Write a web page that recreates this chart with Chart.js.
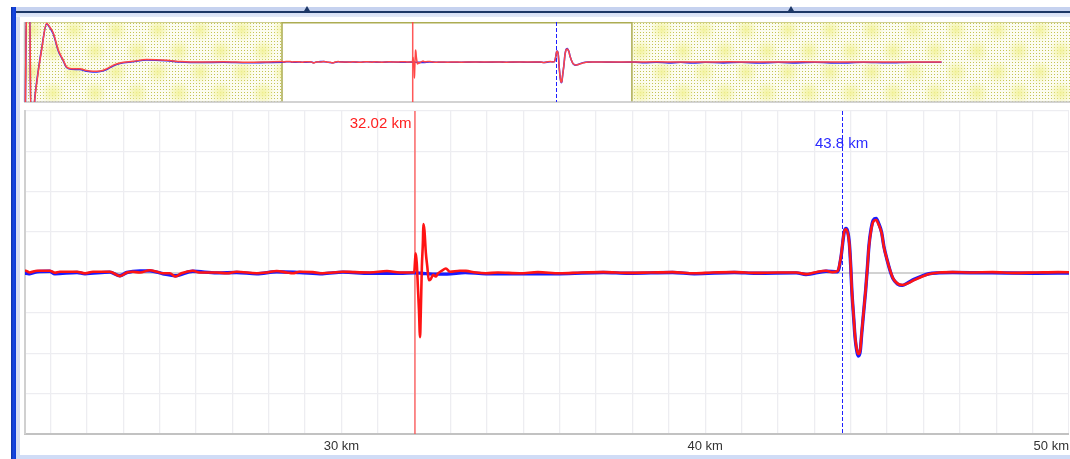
<!DOCTYPE html>
<html>
<head>
<meta charset="utf-8">
<script src="https://cdn.jsdelivr.net/npm/chart.js@4.4.1/dist/chart.umd.min.js"></script>
<style>
  html, body { margin: 0; padding: 0; background: #fff; width: 1070px; height: 459px; overflow: hidden; position: relative; }
  .abs { position: absolute; }
  #blueBar { left: 11px; top: 7px; width: 5px; height: 452px; background: linear-gradient(to right, #0a2e9e, #1747e0 45%, #0b3ad6); }
  #leftStrip { left: 16px; top: 7px; width: 4px; height: 452px; background: #d5ddf0; }
  #topBand { left: 16px; top: 7px; right: 0; height: 10px; background: linear-gradient(to bottom, #c6d2ef 0, #c6d2ef 4px, #1d3766 4px, #1d3766 6px, #d6e0f6 6px, #e4eaf8 10px); }
  #bottomBand { left: 16px; top: 455px; right: 0; height: 4px; background: #d0dcf6; }
  .tickMark { top: 6px; width: 0; height: 0; border-left: 3px solid transparent; border-right: 3px solid transparent; border-bottom: 5px solid #1d3766; }
  #overviewCanvas { left: 22px; top: 20px; }
  #mainCanvas { left: 23px; top: 108px; }
</style>
</head>
<body>
<div class="abs" id="blueBar"></div>
<div class="abs" id="leftStrip"></div>
<div class="abs" id="topBand"></div>
<div class="abs" id="bottomBand"></div>
<div class="abs tickMark" style="left:304px"></div>
<div class="abs tickMark" style="left:788px"></div>
<canvas class="abs" id="overviewCanvas" width="1080" height="84"></canvas>
<canvas class="abs" id="mainCanvas" width="1046" height="351"></canvas>
<script>
// distance (km), amplitude
const redTrace = [
  [0.25,-4.5],[0.30,2.5],[0.36,4.6],[0.62,4.6],[0.68,-4.6],[0.95,-4.6],[1.03,-3.6],[1.30,-1.0],[1.58,1.2],[1.99,3.87],
  [2.25,3.5],[2.54,2.9],[2.95,1.2],[3.36,0.17],[3.63,-0.51],[4.04,-0.68],[4.72,-0.68],[5.27,-0.85],[5.79,-0.92],[6.37,-0.9],
  [6.92,-0.68],[7.43,-0.34],[8.0,-0.1],[9.07,0.07],[10.2,0.24],[11.84,0.17],[13.0,0.05],[14.6,0.0],[16.5,0.02],[18.5,-0.03],[20.0,0.0],
  [21.32,0.045],[21.43,0.0],[21.63,0.045],[21.98,0.045],[22.12,-0.005],[22.26,0.02],[22.73,0.02],[22.95,-0.02],[23.17,0.02],[23.63,0.02],
  [23.91,-0.09],[24.10,0.0],[24.26,0.02],[24.46,0.0],[24.73,0.055],[24.92,0.02],[25.09,-0.02],[25.28,-0.02],[25.44,-0.10],[25.60,-0.02],
  [25.91,0.045],[26.10,0.0],[26.57,0.0],[26.85,-0.02],[27.12,0.02],[27.67,-0.02],[27.95,0.0],[28.22,0.037],[28.50,0.0],[28.66,-0.02],
  [28.85,0.02],[29.21,0.01],[29.48,-0.02],[29.76,0.0],[30.04,0.02],[30.31,0.01],[30.78,0.0],[31.25,0.037],[31.60,0.0],[31.88,0.0],[32.00,0.0],
  [32.02,0.25],[32.04,0.475],[32.07,0.23],[32.10,-0.35],[32.13,-0.93],[32.16,-1.60],[32.18,-1.0],[32.21,0.14],[32.24,0.8],[32.25,1.2],
  [32.28,1.05],[32.32,0.48],[32.36,0.14],[32.40,-0.19],[32.45,-0.17],[32.52,-0.06],[32.59,-0.1],[32.65,-0.03],[32.76,0.045],[32.87,0.10],
  [32.98,0.02],[33.25,0.045],[33.42,0.04],[33.69,0.0],[33.97,-0.02],
  [34.3,0.0],[34.9,-0.02],[35.4,0.01],[36.0,-0.02],[36.6,0.0],[37.2,0.01],[37.9,-0.01],[38.5,0.0],[39.1,0.01],[39.7,-0.02],
  [40.2,0.0],[40.8,0.01],[41.4,-0.01],[42.0,0.0],[42.5,0.0],[42.77,-0.04],[43.0,0.0],[43.32,0.045],[43.5,0.01],[43.64,0.04],
  [43.73,0.39],[43.82,1.01],[43.87,1.07],[43.96,0.72],[44.00,0.14],[44.03,-0.43],[44.08,-1.09],[44.12,-1.59],[44.17,-1.92],[44.21,-2.02],
  [44.26,-1.92],[44.30,-1.50],[44.35,-1.01],[44.41,-0.43],[44.46,0.14],[44.50,0.64],[44.56,1.05],[44.62,1.26],[44.70,1.30],[44.77,1.18],
  [44.85,0.97],[44.91,0.64],[45.00,0.31],[45.08,0.06],[45.16,-0.14],[45.28,-0.27],[45.42,-0.31],[45.56,-0.27],[45.74,-0.19],[45.97,-0.10],
  [46.15,-0.04],[46.43,0.0],[46.8,0.01],[47.3,0.0],[47.9,0.01],[48.5,-0.01],[49.1,0.0],[49.7,0.01],[50.3,0.0],
  [52,0.02],[54,-0.01],[56,0.0],[58,0.02],[60,-0.01],[62,0.0],[64,0.02],[66,0.0],[68,-0.01],[70,0.01],[72,0.0],[74,0.01],[75.4,0.0]
];

const blueTrace = [
  [0.25,-4.5],[0.30,2.3],[0.36,4.6],[0.62,4.6],[0.68,-4.6],[0.95,-4.6],[1.03,-3.5],[1.30,-0.9],[1.58,1.3],[1.99,3.8],
  [2.25,3.45],[2.54,2.8],[2.95,1.1],[3.36,0.12],[3.63,-0.55],[4.04,-0.72],[4.72,-0.75],[5.27,-0.92],[5.79,-1.0],[6.37,-0.95],
  [6.92,-0.75],[7.43,-0.4],[8.0,-0.15],[9.07,0.02],[10.2,0.2],[11.84,0.12],[13.0,0.0],[14.6,-0.05],[16.5,-0.03],[18.5,-0.08],[20.0,-0.05],
  [21.32,-0.02],[21.43,-0.03],[21.63,0.02],[21.98,0.03],[22.12,-0.03],[22.73,0.0],[22.95,-0.03],[23.63,0.01],[23.91,-0.08],[24.10,0.0],
  [24.46,0.04],[24.73,0.04],[25.09,-0.03],[25.44,-0.08],[25.91,0.03],[26.57,-0.01],[27.12,0.0],[27.67,-0.03],[28.22,0.02],[28.85,0.0],
  [29.48,-0.03],[30.04,0.01],[30.78,-0.02],[31.6,-0.02],[32.0,-0.01],[32.2,-0.02],[32.5,-0.04],[32.9,-0.04],[33.4,0.0],[33.97,-0.03],
  [34.9,-0.03],[36.0,-0.03],[37.2,0.0],[37.9,-0.02],[39.1,0.0],[39.7,-0.03],[40.8,0.0],[41.4,-0.02],[42.5,-0.01],[42.77,-0.05],
  [43.32,0.03],[43.64,0.02],[43.73,0.37],[43.82,1.0],[43.87,1.09],[43.96,0.74],[44.00,0.15],[44.03,-0.44],[44.08,-1.11],[44.12,-1.62],
  [44.17,-1.96],[44.21,-2.07],[44.26,-1.96],[44.30,-1.53],[44.35,-1.03],[44.41,-0.44],[44.46,0.15],[44.50,0.66],[44.56,1.08],[44.62,1.30],
  [44.70,1.34],[44.77,1.21],[44.85,0.99],[44.91,0.65],[45.00,0.31],[45.08,0.05],[45.16,-0.15],[45.28,-0.28],[45.42,-0.32],[45.56,-0.26],
  [45.74,-0.17],[45.97,-0.08],[46.15,-0.03],[46.43,-0.01],[46.8,0.0],[47.9,-0.01],[49.1,-0.02],[50.3,-0.01],
  [51,-0.08],[52,-0.02],[53,-0.09],[54,-0.03],[55,-0.1],[56,-0.02],[57.5,-0.09],[59,-0.02],[60.5,-0.1],[62,-0.03],
  [63.5,-0.09],[65,-0.02],[67,-0.1],[69,-0.03],[71,-0.08],[73,-0.02],[75.4,-0.02]
];

const viewMinKm = 21.3;
const viewMaxKm = 50.0;
const overviewMinKm = 0.136;
const overviewMaxKm = 88.56;
const cursorRedKm = 32.02;
const cursorBlueKm = 43.75;
const cursorRedLabel = '32.02 km';
const cursorBlueLabel = '43.8 km';
const labelEveryKm = 10;

function makeDotPattern(ctx) {
  const tile = document.createElement('canvas');
  tile.width = 42; tile.height = 42;
  const g = tile.getContext('2d');
  g.fillStyle = '#fcfcf0';
  g.fillRect(0, 0, 42, 42);
  g.fillStyle = '#c4c454';
  for (let y = 0; y < 42; y += 3) {
    for (let x = 0; x < 42; x += 3) g.fillRect(x, y, 1, 1);
  }
  [[10, 10], [31, 31]].forEach(([cx, cy]) => {
    const rg = g.createRadialGradient(cx, cy, 0, cx, cy, 12);
    rg.addColorStop(0, 'rgba(242,242,150,0.9)');
    rg.addColorStop(1, 'rgba(242,242,150,0)');
    g.fillStyle = rg;
    g.fillRect(0, 0, 42, 42);
  });
  return ctx.createPattern(tile, 'repeat');
}

const cursorPlugin = {
  id: 'cursors',
  beforeDatasetsDraw(chart, args, opts) {
    const { ctx, chartArea: a, scales: { x } } = chart;
    ctx.save();
    if (opts.overview) {
      ctx.fillStyle = makeDotPattern(ctx);
      ctx.fillRect(a.left, a.top, a.right - a.left, a.bottom - a.top);
      const wl = x.getPixelForValue(viewMinKm), wr = x.getPixelForValue(viewMaxKm);
      ctx.fillStyle = '#fff';
      ctx.fillRect(wl, a.top, wr - wl, a.bottom - a.top);
      ctx.strokeStyle = 'rgba(170,170,70,0.55)';
      ctx.lineWidth = 1;
      ctx.beginPath(); ctx.moveTo(a.left, a.top + 0.5); ctx.lineTo(a.right, a.top + 0.5); ctx.stroke();
      ctx.strokeStyle = '#acac52';
      ctx.lineWidth = 1.5;
      ctx.beginPath();
      ctx.moveTo(wl, a.bottom); ctx.lineTo(wl, a.top + 0.75); ctx.lineTo(wr, a.top + 0.75); ctx.lineTo(wr, a.bottom);
      ctx.stroke();
      ctx.strokeStyle = '#c4c4c4';
      ctx.beginPath(); ctx.moveTo(a.left, a.bottom); ctx.lineTo(a.right, a.bottom); ctx.stroke();
      ctx.beginPath(); ctx.moveTo(a.left + 0.5, a.top); ctx.lineTo(a.left + 0.5, a.bottom); ctx.stroke();
    }
    const rx = x.getPixelForValue(cursorRedKm);
    const bx = x.getPixelForValue(cursorBlueKm);
    ctx.strokeStyle = opts.redColor;
    ctx.lineWidth = 1.5;
    ctx.beginPath(); ctx.moveTo(rx, a.top); ctx.lineTo(rx, a.bottom); ctx.stroke();
    ctx.strokeStyle = '#1f1fff';
    ctx.lineWidth = 1;
    ctx.setLineDash([4, 2]);
    ctx.beginPath(); ctx.moveTo(Math.round(bx) + 0.5, a.top); ctx.lineTo(Math.round(bx) + 0.5, a.bottom); ctx.stroke();
    ctx.restore();
  },
  afterDatasetsDraw(chart, args, opts) {
    if (!opts.labels) return;
    const { ctx, chartArea: a, scales: { x } } = chart;
    ctx.save();
    ctx.font = '15px "Liberation Sans", Arial, sans-serif';
    ctx.textBaseline = 'middle';
    ctx.fillStyle = '#ff2020';
    ctx.textAlign = 'right';
    ctx.fillText(cursorRedLabel, x.getPixelForValue(cursorRedKm) - 3.5, a.top + 13);
    ctx.fillStyle = '#2a2aff';
    ctx.textAlign = 'center';
    ctx.fillText(cursorBlueLabel, x.getPixelForValue(cursorBlueKm), a.top + 32.5);
    ctx.restore();
  }
};

new Chart(document.getElementById('overviewCanvas'), {
  type: 'line',
  data: {
    datasets: [
      { label: 'A', data: redTrace, borderColor: '#ff4646', borderWidth: 1.5, order: 0 },
      { label: 'B', data: blueTrace, borderColor: '#2a2aff', borderWidth: 1.6, order: 1 }
    ]
  },
  options: {
    responsive: false,
    animation: false,
    events: [],
    devicePixelRatio: 1,
    layout: { padding: { left: 2, top: 2, right: 0, bottom: 2 } },
    elements: { point: { radius: 0 }, line: { cubicInterpolationMode: 'monotone', fill: false } },
    plugins: {
      legend: { display: false },
      tooltip: { enabled: false },
      cursors: { overview: true, labels: false, redColor: 'rgba(255,70,70,0.9)' }
    },
    scales: {
      x: { type: 'linear', display: false, min: overviewMinKm, max: overviewMaxKm },
      y: { display: false, min: -4, max: 4 }
    }
  },
  plugins: [cursorPlugin]
});

new Chart(document.getElementById('mainCanvas'), {
  type: 'line',
  data: {
    datasets: [
      { label: 'A', data: redTrace, borderColor: '#ff1414', borderWidth: 2.6, order: 0 },
      { label: 'B', data: blueTrace, borderColor: '#1a1aff', borderWidth: 3.4, order: 1 }
    ]
  },
  options: {
    responsive: false,
    animation: false,
    events: [],
    devicePixelRatio: 1,
    layout: { padding: { left: 2, top: 3, right: 0, bottom: 0 } },
    elements: { point: { radius: 0 }, line: { cubicInterpolationMode: 'monotone', fill: false } },
    plugins: {
      legend: { display: false },
      tooltip: { enabled: false },
      cursors: { overview: false, labels: true, redColor: 'rgba(255,70,70,0.8)' }
    },
    scales: {
      x: {
        type: 'linear',
        min: viewMinKm,
        max: viewMaxKm,
        afterFit: s => { s.paddingLeft = 0; s.paddingRight = 0; s.height = 25; },
        border: { display: true, color: '#c2c2c2', width: 2 },
        grid: { color: '#ededf1', lineWidth: 1.3, drawTicks: false },
        ticks: {
          stepSize: 1,
          includeBounds: false,
          autoSkip: false,
          maxRotation: 0,
          minRotation: 0,
          align: 'inner',
          padding: 5,
          color: '#333',
          font: { family: '"Liberation Sans", Arial, sans-serif', size: 13 },
          callback: v => (v % labelEveryKm === 0 ? v + ' km' : '')
        }
      },
      y: {
        min: -4,
        max: 4,
        afterFit: s => { s.width = 0; },
        border: { display: true, color: '#d0d0d0', width: 2 },
        grid: {
          drawTicks: false,
          color: c => (c.tick && c.tick.value === 0 ? '#d2d2d2' : '#ededf1'),
          lineWidth: c => (c.tick && c.tick.value === 0 ? 2 : 1.3)
        },
        ticks: { stepSize: 1, display: false }
      }
    }
  },
  plugins: [cursorPlugin]
});
</script>
</body>
</html>
